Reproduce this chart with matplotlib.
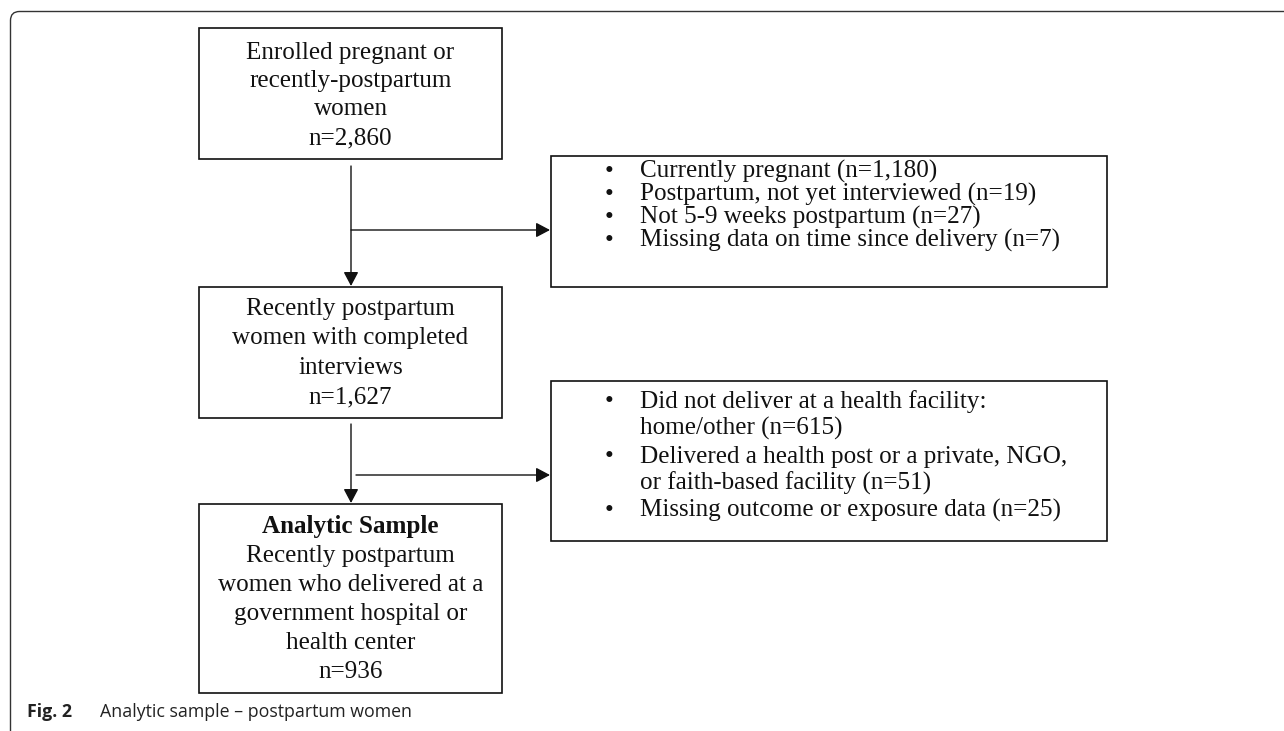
import matplotlib
matplotlib.use("Agg")
import matplotlib.pyplot as plt
from matplotlib.patches import Rectangle, FancyArrowPatch, PathPatch
from matplotlib.path import Path

# ---- content ----
main_box_lines = [
    ["Enrolled pregnant or", "recently-postpartum", "women", "n=2,860"],
    ["Recently postpartum", "women with completed", "interviews", "n=1,627"],
    ["Analytic Sample", "Recently postpartum", "women who delivered at a",
     "government hospital or", "health center", "n=936"],
]
main_box_bold_first = [False, False, True]

excl_box_lines = [
    ["Currently pregnant (n=1,180)", "Postpartum, not yet interviewed (n=19)",
     "Not 5-9 weeks postpartum (n=27)", "Missing data on time since delivery (n=7)"],
    ["Did not deliver at a health facility:", "home/other (n=615)",
     "Delivered a health post or a private, NGO,", "or faith-based facility (n=51)",
     "Missing outcome or exposure data (n=25)"],
]
excl_box_bullets = [
    [True, True, True, True],
    [True, False, True, False, True],
]

caption_bold = "Fig. 2"
caption_text = "Analytic sample \u2013 postpartum women"

# ---- layout (pixel coordinates) ----
W, H = 1284, 731
main_boxes = [(199, 28, 502, 159), (199, 287, 502, 418), (199, 504, 502, 693)]
main_baselines = [[59, 87, 115, 144], [315, 344, 374, 403],
                  [533, 562, 591, 620, 649, 678]]
excl_boxes = [(551, 156, 1107, 287), (551, 381, 1107, 541)]
excl_baselines = [[178, 201, 224, 247], [408, 435, 463, 490, 517]]

serif = "Liberation Serif"
fs = 18.1
ink = "#111111"

fig = plt.figure(figsize=(W / 100, H / 100), dpi=100)
ax = fig.add_axes([0, 0, 1, 1])
ax.set_xlim(0, W)
ax.set_ylim(H, 0)
ax.axis("off")

# outer frame with rounded top-left corner
r = 9
fx, fy = 10.5, 11.5
verts = [(fx, H), (fx, fy + r), (fx, fy), (fx + r, fy), (W, fy)]
codes = [Path.MOVETO, Path.LINETO, Path.CURVE3, Path.CURVE3, Path.LINETO]
ax.add_patch(PathPatch(Path(verts, codes), fill=False, edgecolor="#333333", lw=1.0))

# main boxes
for (x0, y0, x1, y1), lines, bl, bold in zip(main_boxes, main_box_lines,
                                            main_baselines, main_box_bold_first):
    ax.add_patch(Rectangle((x0, y0), x1 - x0, y1 - y0, fill=False,
                           edgecolor=ink, lw=1.2))
    cx = (x0 + x1) / 2
    for i, (t, y) in enumerate(zip(lines, bl)):
        ax.text(cx, y, t, ha="center", va="baseline", fontsize=fs,
                family=serif, color=ink,
                fontweight="bold" if (bold and i == 0) else "normal")

# exclusion boxes
for (x0, y0, x1, y1), lines, bl, bullets in zip(excl_boxes, excl_box_lines,
                                               excl_baselines, excl_box_bullets):
    ax.add_patch(Rectangle((x0, y0), x1 - x0, y1 - y0, fill=False,
                           edgecolor=ink, lw=1.2))
    for t, y, b in zip(lines, bl, bullets):
        if b:
            ax.text(609, y, "\u2022", ha="center", va="baseline", fontsize=fs,
                    family=serif, color=ink)
        ax.text(640, y, t, ha="left", va="baseline", fontsize=fs,
                family=serif, color=ink)

# arrows
def arrow(p0, p1):
    ax.add_patch(FancyArrowPatch(p0, p1, arrowstyle="-|>,head_length=0.85,head_width=0.45",
                                 mutation_scale=10, shrinkA=0, shrinkB=0,
                                 color=ink, lw=1.0))

arrow((351, 166), (351, 286))
arrow((351, 230), (550, 230))
arrow((351, 424), (351, 503))
arrow((356, 475), (550, 475))

# caption
ax.text(27, 717, caption_bold, ha="left", va="baseline", fontsize=12.8,
        family="Open Sans", fontweight="bold", color="#222222")
ax.text(100, 717, caption_text, ha="left", va="baseline", fontsize=12.8,
        family="Open Sans", color="#222222")

fig.savefig("out.png", dpi=100)
